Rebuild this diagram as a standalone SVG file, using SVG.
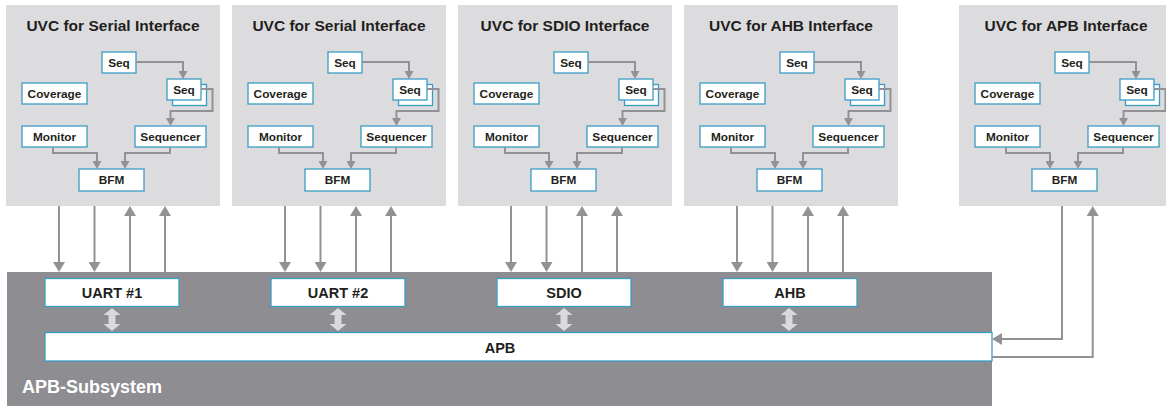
<svg xmlns="http://www.w3.org/2000/svg" xmlns:xlink="http://www.w3.org/1999/xlink" width="1166" height="406" viewBox="0 0 1166 406">
  <style>
    .panel { fill: #dcdcde; }
    .box { fill: #ffffff; stroke: #3b9cc3; stroke-width: 1.3; }
    .lbl { font-family: "Liberation Sans", Arial, sans-serif; font-weight: bold; font-size: 11.8px; fill: #231f20; text-anchor: middle; }
    .title { font-family: "Liberation Sans", Arial, sans-serif; font-weight: bold; font-size: 15.5px; fill: #231f20; text-anchor: middle; }
    .blk { font-family: "Liberation Sans", Arial, sans-serif; font-weight: bold; font-size: 14.5px; fill: #231f20; text-anchor: middle; }
    .wire { fill: none; stroke: #929296; stroke-width: 2; marker-end: url(#headS); }
    .bus { fill: none; stroke: #929296; stroke-width: 2; marker-end: url(#headL); }
    .dbl { fill: #dadadc; }
  </style>
  <defs>
    <marker id="headS" markerUnits="userSpaceOnUse" markerWidth="9" markerHeight="9" viewBox="0 0 8 9" refX="2" refY="4.5" orient="auto">
      <path d="M0,0 L8,4.5 L0,9 Z" fill="#929296"/>
    </marker>
    <marker id="headL" markerUnits="userSpaceOnUse" markerWidth="11" markerHeight="12" viewBox="0 0 10 12" refX="2" refY="6" orient="auto">
      <path d="M0,0 L10,6 L0,12 Z" fill="#929296"/>
    </marker>
    <!-- vertical two-way arrow between a block and the bus, centred on x=0 -->
    <path id="twoWay" class="dbl" d="M0,308 L8.5,315 L3.5,315 L3.5,324 L8.5,324 L0,331 L-8.5,324 L-3.5,324 L-3.5,315 L-8.5,315 Z"/>
    <!-- inner contents of one verification component -->
    <g id="uvcBody">
      <rect class="panel" x="0" y="5" width="214" height="201"/>
      <g>
        <rect class="box" x="96" y="52" width="34" height="21"/>
        <text class="lbl" x="113" y="66.5">Seq</text>
      </g>
      <g>
        <rect class="box" x="166.5" y="84.5" width="34" height="21"/>
        <rect class="box" x="161" y="79" width="34" height="21"/>
        <text class="lbl" x="178" y="93.5">Seq</text>
      </g>
      <g>
        <rect class="box" x="16" y="83" width="65" height="21"/>
        <text class="lbl" x="48.5" y="97.8">Coverage</text>
      </g>
      <g>
        <rect class="box" x="16" y="126" width="65" height="21"/>
        <text class="lbl" x="48.5" y="140.8">Monitor</text>
      </g>
      <g>
        <rect class="box" x="129" y="126" width="71" height="21"/>
        <text class="lbl" x="164.5" y="140.8">Sequencer</text>
      </g>
      <g>
        <rect class="box" x="73" y="169" width="65" height="22"/>
        <text class="lbl" x="105.5" y="184.3">BFM</text>
      </g>
    </g>
  </defs>

  <!-- verification components -->
  <g id="uvc-serial-1" transform="translate(6,0)">
    <use xlink:href="#uvcBody"/>
    <text class="title" x="107" y="30.5">UVC for Serial Interface</text>
  </g>
  <g id="uvc-serial-2" transform="translate(232,0)">
    <use xlink:href="#uvcBody"/>
    <text class="title" x="107" y="30.5">UVC for Serial Interface</text>
  </g>
  <g id="uvc-sdio" transform="translate(458,0)">
    <use xlink:href="#uvcBody"/>
    <text class="title" x="107" y="30.5">UVC for SDIO Interface</text>
  </g>
  <g id="uvc-ahb" transform="translate(684,0)">
    <use xlink:href="#uvcBody"/>
    <text class="title" x="107" y="30.5">UVC for AHB Interface</text>
  </g>
  <g id="uvc-apb" transform="translate(959,0)">
    <use xlink:href="#uvcBody"/>
    <text class="title" x="107" y="30.5">UVC for APB Interface</text>
  </g>

  <!-- subsystem under test -->
  <g id="apb-subsystem">
    <rect x="7" y="272" width="985" height="140" fill="#8e8d92"/>
    <text x="22" y="393" font-family="Liberation Sans, Arial, sans-serif" font-weight="bold" font-size="18" fill="#ffffff">APB-Subsystem</text>
  </g>
  <g id="uart1">
    <rect class="box" x="45" y="278.5" width="134" height="28"/>
    <text class="blk" x="112" y="298">UART #1</text>
  </g>
  <g id="uart2">
    <rect class="box" x="271" y="278.5" width="134" height="28"/>
    <text class="blk" x="338" y="298">UART #2</text>
  </g>
  <g id="sdio">
    <rect class="box" x="497" y="278.5" width="134" height="28"/>
    <text class="blk" x="564" y="298">SDIO</text>
  </g>
  <g id="ahb">
    <rect class="box" x="723" y="278.5" width="134" height="28"/>
    <text class="blk" x="790" y="298">AHB</text>
  </g>
  <g id="apb">
    <rect class="box" x="45" y="332.5" width="947" height="28.5"/>
    <text class="blk" x="500" y="353" font-size="16.5">APB</text>
  </g>

  <g id="connectors">
    <!-- links inside each component -->
    <g id="inner-links">
      <g transform="translate(6,0)">
        <path class="wire" d="M130,62 H177 V73"/>
        <path class="wire" d="M195,89 H206.5 V111 H164.5 V120"/>
        <path class="wire" d="M47,147 V153 H91 V163"/>
        <path class="wire" d="M164,147 V153 H119 V163"/>
      </g>
      <g transform="translate(232,0)">
        <path class="wire" d="M130,62 H177 V73"/>
        <path class="wire" d="M195,89 H206.5 V111 H164.5 V120"/>
        <path class="wire" d="M47,147 V153 H91 V163"/>
        <path class="wire" d="M164,147 V153 H119 V163"/>
      </g>
      <g transform="translate(458,0)">
        <path class="wire" d="M130,62 H177 V73"/>
        <path class="wire" d="M195,89 H206.5 V111 H164.5 V120"/>
        <path class="wire" d="M47,147 V153 H91 V163"/>
        <path class="wire" d="M164,147 V153 H119 V163"/>
      </g>
      <g transform="translate(684,0)">
        <path class="wire" d="M130,62 H177 V73"/>
        <path class="wire" d="M195,89 H206.5 V111 H164.5 V120"/>
        <path class="wire" d="M47,147 V153 H91 V163"/>
        <path class="wire" d="M164,147 V153 H119 V163"/>
      </g>
      <g transform="translate(959,0)">
        <path class="wire" d="M130,62 H177 V73"/>
        <path class="wire" d="M195,89 H206.5 V111 H164.5 V120"/>
        <path class="wire" d="M47,147 V153 H91 V163"/>
        <path class="wire" d="M164,147 V153 H119 V163"/>
      </g>
    </g>
    <!-- signals between components and the subsystem -->
    <g id="pin-links">
      <g transform="translate(6,0)">
        <path class="bus" d="M53,206 V264"/>
        <path class="bus" d="M88.5,206 V264"/>
        <path class="bus" d="M124,272 V214"/>
        <path class="bus" d="M159,272 V214"/>
      </g>
      <g transform="translate(232,0)">
        <path class="bus" d="M53,206 V264"/>
        <path class="bus" d="M88.5,206 V264"/>
        <path class="bus" d="M124,272 V214"/>
        <path class="bus" d="M159,272 V214"/>
      </g>
      <g transform="translate(458,0)">
        <path class="bus" d="M53,206 V264"/>
        <path class="bus" d="M88.5,206 V264"/>
        <path class="bus" d="M124,272 V214"/>
        <path class="bus" d="M159,272 V214"/>
      </g>
      <g transform="translate(684,0)">
        <path class="bus" d="M53,206 V264"/>
        <path class="bus" d="M88.5,206 V264"/>
        <path class="bus" d="M124,272 V214"/>
        <path class="bus" d="M159,272 V214"/>
      </g>
      <path class="bus" d="M1062,206 V339 H1000"/>
      <path class="bus" d="M992,357 H1092.7 V214"/>
    </g>
    <!-- block to bus -->
    <g id="bus-links">
      <use xlink:href="#twoWay" x="112"/>
      <use xlink:href="#twoWay" x="338"/>
      <use xlink:href="#twoWay" x="564"/>
      <use xlink:href="#twoWay" x="789"/>
    </g>
  </g>
</svg>
